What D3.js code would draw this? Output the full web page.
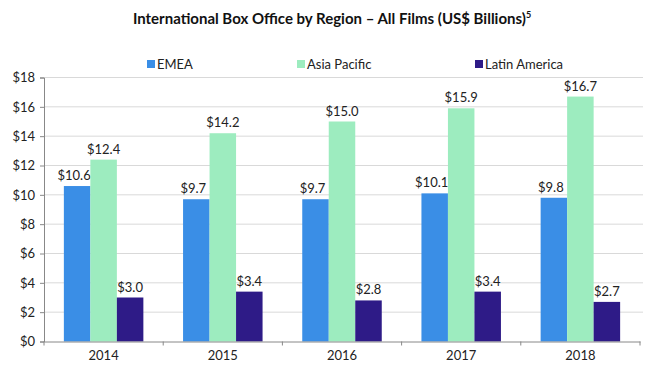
<!DOCTYPE html>
<html><head><meta charset="utf-8">
<script src="https://cdn.jsdelivr.net/npm/d3@7"></script>
<style>
body{margin:0;background:#fff;}
text{font-family:Lato,"Open Sans",sans-serif;}
</style></head>
<body><svg id="c" width="655" height="379"></svg>
<script>
const years = ["2014","2015","2016","2017","2018"];
const seriesNames = ["EMEA","Asia Pacific","Latin America"];
const emea = [10.6, 9.7, 9.7, 10.1, 9.8];
const asiaPacific = [12.4, 14.2, 15.0, 15.9, 16.7];
const latinAmerica = [3.0, 3.4, 2.8, 3.4, 2.7];
const yTicks = [0,2,4,6,8,10,12,14,16,18];
const colors = ["#3a8ee6","#9decbf","#2e1b87"];

const seriesValues = [emea, asiaPacific, latinAmerica];
const svg = d3.select("#c");
const L = 44, R = 640, T = 77.5, B = 341.5;

const x = d3.scaleBand().domain(years).range([L, R]).paddingInner(0.333).paddingOuter(0.1667);
const xs = d3.scaleBand().domain(seriesNames).range([0, x.bandwidth()]);
const y = d3.scaleLinear().domain([0, 18]).range([B, T]);

// gridlines
svg.append("g").selectAll("line").data(yTicks.filter(d=>d>0)).join("line")
  .attr("x1", L).attr("x2", 643).attr("y1", d=>y(d)).attr("y2", d=>y(d))
  .attr("stroke", "#d9d9d9").attr("stroke-width", 1);

// bars
seriesNames.forEach((s, si) => {
  const g = svg.append("g");
  g.selectAll("rect").data(years).join("rect")
    .attr("x", d => x(d) + xs(s))
    .attr("y", (d,i) => y(seriesValues[si][i]))
    .attr("width", xs.bandwidth())
    .attr("height", (d,i) => y(0) - y(seriesValues[si][i]))
    .attr("fill", colors[si]);
  g.selectAll("text").data(years).join("text")
    .attr("x", d => x(d) + xs(s) + xs.bandwidth()/2 - (si === 0 ? 3 : 0))
    .attr("y", (d,i) => y(seriesValues[si][i]) - 6)
    .attr("text-anchor", "middle")
    .attr("font-size", 13).attr("fill", "#222")
    .text((d,i) => "$" + seriesValues[si][i].toFixed(1));
});

// y axis
const yAxis = svg.append("g").attr("transform", `translate(${L},0)`)
  .call(d3.axisLeft(y).tickValues(yTicks).tickFormat(d => "$" + d).tickSize(4).tickPadding(5));
yAxis.select(".domain").attr("stroke", "#888");
yAxis.selectAll(".tick line").attr("stroke", "#888");
yAxis.selectAll("text").attr("font-size", 13).attr("fill", "#222").style("font-family","Lato,sans-serif");

// x axis
const xAxis = svg.append("g").attr("transform", `translate(0,${B})`)
  .call(d3.axisBottom(x).tickSize(0).tickPadding(9));
xAxis.select(".domain").attr("stroke", "#888");
xAxis.selectAll("text").attr("font-size", 13).attr("fill", "#222").style("font-family","Lato,sans-serif");
// boundary ticks
const bounds = years.map(d => x(d) - x.step()*x.paddingInner()/2).concat([R]);
xAxis.append("g").selectAll("line").data(bounds).join("line")
  .attr("x1", d=>d).attr("x2", d=>d).attr("y1", 0).attr("y2", 4)
  .attr("stroke", "#888");

// title
const title = svg.append("text").attr("x", 332).attr("y", 24).attr("text-anchor", "middle")
  .attr("font-size", 15).attr("font-weight", "bold").attr("fill", "#111");
title.append("tspan").text("International Box Office by Region – All Films (US$ Billions)");
title.append("tspan").attr("font-size", 9).attr("dy", -6).text("5");

// legend
const legX = [147, 297, 475];
const leg = svg.append("g");
seriesNames.forEach((s, i) => {
  leg.append("rect").attr("x", legX[i]).attr("y", 60).attr("width", 8).attr("height", 8).attr("fill", colors[i]);
  leg.append("text").attr("x", legX[i] + 10).attr("y", 69).attr("font-size", 13).attr("fill", "#222").text(s);
});
</script></body></html>
